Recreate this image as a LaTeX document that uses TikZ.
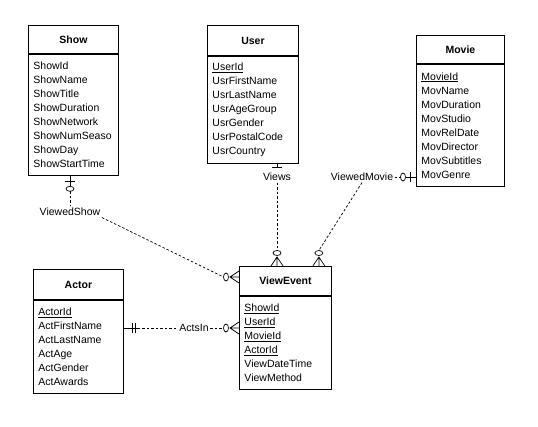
\documentclass[tikz,border=0pt]{standalone}
\usepackage{fontspec}
\setmainfont{Liberation Sans}
\usetikzlibrary{positioning,calc}

\tikzset{
  entity/.style={draw,line width=0.9pt,anchor=north west,inner sep=0pt,font=\fontsize{10.5}{14}\selectfont\bfseries},
  attrs/.style={draw,line width=0.9pt,align=left,text width=#1,inner xsep=5pt,inner ysep=2pt,font=\fontsize{10.5}{14}\selectfont},
  role/.style={inner sep=1.5pt,font=\fontsize{10.5}{12}\selectfont},
  rel/.style={line width=0.7pt,dash pattern=on 2.5pt off 2pt},
  % crow's foot ends, drawn with the entity edge at the origin
  zeromany/.pic={
    \draw[line width=0.7pt] (0,-6) -- (9,0) -- (0,6) (0,0) -- (9,0);
    \draw[line width=0.7pt] (13,0) ellipse [x radius=2.5,y radius=4];
  },
  zeroone/.pic={
    \draw[line width=0.7pt] (0,0) -- (10.5,0) (6,-5) -- (6,5);
    \draw[line width=0.7pt] (13,0) ellipse [x radius=2.5,y radius=4];
  },
  justone/.pic={
    \draw[line width=0.7pt] (0,0) -- (4,0) (4,-5) -- (4,5);
  },
  oneone/.pic={
    \draw[line width=0.7pt] (0,0) -- (14,0) (8,-5) -- (8,5) (11,-5) -- (11,5);
  }
}

\begin{document}
\begin{tikzpicture}[x=1pt,y=-1pt]
    \useasboundingbox (0,0) rectangle (538,427);

    % Entities
    \node[entity,minimum width=90,minimum height=28] (show) at (28,25) {Show};
    \node[attrs=80,minimum height=121,below=0pt of show] (show-attr)
      {ShowId\\ShowName\\ShowTitle\\ShowDuration\\ShowNetwork\\ShowNumSeaso\\ShowDay\\ShowStartTime};

    \node[entity,minimum width=91,minimum height=30] (user) at (207,25) {User};
    \node[attrs=81,minimum height=107,below=0pt of user] (user-attr)
      {\underline{UserId}\\UsrFirstName\\UsrLastName\\UsrAgeGroup\\UsrGender\\UsrPostalCode\\UsrCountry};

    \node[entity,minimum width=88,minimum height=28] (movie) at (416,35) {Movie};
    \node[attrs=78,minimum height=122,below=0pt of movie] (movie-attr)
      {\underline{MovieId}\\MovName\\MovDuration\\MovStudio\\MovRelDate\\MovDirector\\MovSubtitles\\MovGenre};

    \node[entity,minimum width=90,minimum height=30] (actor) at (33,269) {Actor};
    \node[attrs=80,minimum height=93,below=0pt of actor] (actor-attr)
      {\underline{ActorId}\\ActFirstName\\ActLastName\\ActAge\\ActGender\\ActAwards};

    \node[entity,minimum width=92,minimum height=29] (ve) at (239,266) {ViewEvent};
    \node[attrs=82,minimum height=93,below=0pt of ve] (ve-attr)
      {\underline{ShowId}\\\underline{UserId}\\\underline{MovieId}\\\underline{ActorId}\\ViewDateTime\\ViewMethod};

    % Relationship names
    \node[role] (viewedshow) at (70,212) {ViewedShow};
    \node[role] (views) at (277,177) {Views};
    \node[role] (viewedmovie) at (362,177) {ViewedMovie};
    \node[role] (actsin) at (194,328) {ActsIn};

    % Attach points
    \coordinate (show-v) at (show-attr.south -| viewedshow);
    \coordinate (user-v) at (user-attr.south -| views);
    \coordinate (movie-v) at (movie-attr.west |- viewedmovie);
    \coordinate (actor-v) at (actor-attr.east |- actsin);
    \coordinate (ve-show) at ($(ve.north west)+(0,11)$);
    \coordinate (ve-user) at (ve.north -| views);
    \coordinate (ve-movie) at ($(ve.north east)+(-13,0)$);
    \coordinate (ve-actor) at (ve-attr.west |- actsin);

    % Ends
    \pic[rotate=-90] at (show-v) {zeroone};
    \pic[rotate=-90] at (user-v) {justone};
    \pic[rotate=180] at (movie-v) {zeroone};
    \pic at (actor-v) {oneone};
    \pic[rotate=180] at (ve-show) {zeromany};
    \pic[rotate=90] at (ve-user) {zeromany};
    \pic[rotate=90] at (ve-movie) {zeromany};
    \pic[rotate=180] at (ve-actor) {zeromany};

    % Connectors
    \draw[rel] ($(show-v)+(0,15.5)$) -- (viewedshow.north);
    \draw[rel] (viewedshow.south east) -- ($(ve-show)+(-15.5,0)$);
    \draw[rel] (views.south) -- ($(ve-user)+(0,-15.5)$);
    \draw[rel] (viewedmovie.south) -- ($(ve-movie)+(0,-15.5)$);
    \draw[rel] (viewedmovie.east) -- ($(movie-v)+(-15.5,0)$);
    \draw[rel] ($(actor-v)+(14,0)$) -- (actsin.west);
    \draw[rel] (actsin.east) -- ($(ve-actor)+(-15.5,0)$);
\end{tikzpicture}
\end{document}
